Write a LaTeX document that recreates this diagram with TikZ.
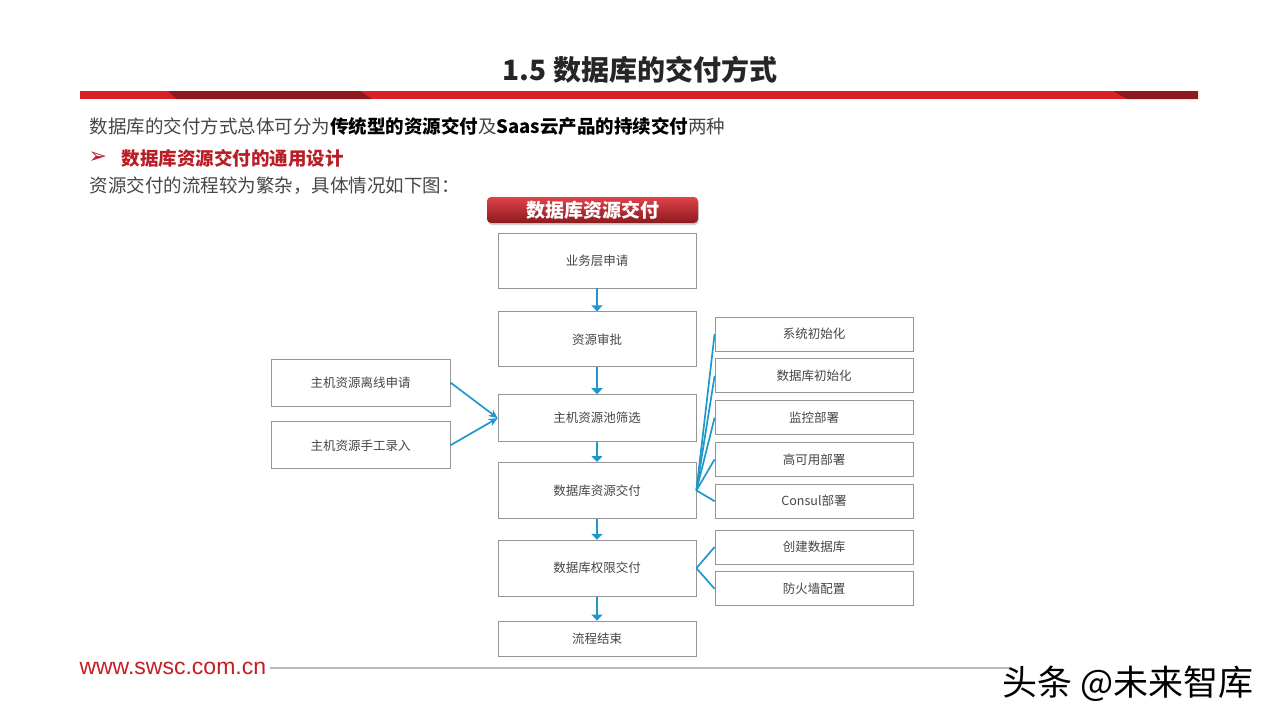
\documentclass[tikz,border=0pt]{standalone}
\usepackage{fontspec}
\setmainfont{Noto Sans CJK SC}
\newfontfamily\symfont{DejaVu Sans}
\newfontfamily\webfont{Liberation Sans}
\usepackage{tikz}
\usetikzlibrary{arrows.meta, positioning, shadows}
\definecolor{swRed}{RGB}{218, 33, 40}
\definecolor{swDark}{RGB}{140, 26, 30}
\definecolor{headRed}{RGB}{185, 30, 38}
\definecolor{flowBlue}{RGB}{30, 152, 205}
\definecolor{boxGray}{RGB}{150, 150, 150}
\definecolor{textGray}{RGB}{70, 70, 70}
\tikzset{
  mainbox/.style={
    rectangle, draw=boxGray, fill=white, line width=0.8pt,
    minimum width=198pt, align=center,
    font=\fontsize{12.5}{14}\selectfont, text=textGray
  },
  sidebox/.style={
    mainbox, minimum height=34pt
  },
  srcbox/.style={
    mainbox, minimum width=179pt, minimum height=47pt
  },
  banner/.style={
    rectangle, rounded corners=4pt,
    top color=swRed!85!white, bottom color=swDark,
    minimum width=211pt, minimum height=26pt,
    drop shadow={opacity=0.35, shadow xshift=1pt, shadow yshift=-2pt},
    text=white, font=\fontsize{19}{20}\selectfont\bfseries
  },
  flowarrow/.style={
    -{Triangle[length=6pt,width=11pt]}, line width=2.7pt, color=flowBlue
  },
  feedarrow/.style={
    -{Stealth[length=9pt,width=8pt]}, line width=1.7pt, color=flowBlue
  },
  fanline/.style={
    line width=1.7pt, color=flowBlue
  },
  bodytext/.style={
    anchor=west, text=textGray, font=\fontsize{18.5}{20}\selectfont
  }
}

\begin{document}
\begin{tikzpicture}[x=1pt, y=-1pt]

  \useasboundingbox (0,0) rectangle (1280,720);
  \fill[white] (0,0) rectangle (1280,720);

  \node[font=\fontsize{28}{29}\selectfont\bfseries, text=black!85] (title) at (640,70)
    {1.5 数据库的交付方式};

  \fill[swRed] (80,91) rectangle (1198,99);
  \fill[swDark] (168,91) -- (360,91) -- (372,99) -- (176,99) -- cycle;
  \fill[swDark] (1113,91) -- (1198,91) -- (1198,99) -- (1127,99) -- cycle;

  \node[bodytext] (intro) at (86,126)
    {数据库的交付方式总体可分为\textbf{\color{black}传统型的资源交付}及\textbf{\color{black}Saas云产品的持续交付}两种};
  \node[anchor=west, text=headRed, font=\fontsize{22}{22}\symfont] (mark) at (85,158) {➢};
  \node[anchor=west, text=headRed, font=\fontsize{18.5}{20}\selectfont\bfseries] (sub) at (118,158)
    {数据库资源交付的通用设计};
  \node[bodytext] (lead) at (86,186) {资源交付的流程较为繁杂，具体情况如下图：};

  \node[banner] (head) at (592.5,210) {数据库资源交付};

  \node[mainbox, minimum height=55pt] (apply) at (597,260.5) {业务层申请};
  \node[mainbox, minimum height=55pt, below=23pt of apply] (approve) {资源审批};
  \node[mainbox, minimum height=47pt, below=27pt of approve] (filter) {主机资源池筛选};
  \node[mainbox, minimum height=56pt, below=20pt of filter] (resdel) {数据库资源交付};
  \node[mainbox, minimum height=56pt, below=21pt of resdel] (privdel) {数据库权限交付};
  \node[mainbox, minimum height=35pt, below=24pt of privdel] (finish) {流程结束};

  \node[srcbox] (offline) at (360.5,382.5) {主机资源离线申请};
  \node[srcbox, below=15pt of offline] (manual) {主机资源手工录入};

  \node[sidebox] (sysinit) at (814,334) {系统初始化};
  \node[sidebox, below=7pt of sysinit] (dbinit) {数据库初始化};
  \node[sidebox, below=7pt of dbinit] (monitor) {监控部署};
  \node[sidebox, below=7pt of monitor] (hadeploy) {高可用部署};
  \node[sidebox, below=7pt of hadeploy] (consul) {Consul部署};
  \node[sidebox, below=11pt of consul] (createdb) {创建数据库};
  \node[sidebox, below=7pt of createdb] (firewall) {防火墙配置};

  \draw[flowarrow] (apply)   -- (approve);
  \draw[flowarrow] (approve) -- (filter);
  \draw[flowarrow] (filter)  -- (resdel);
  \draw[flowarrow] (resdel)  -- (privdel);
  \draw[flowarrow] (privdel) -- (finish);

  \draw[feedarrow] (offline.east) -- (filter.west);
  \draw[feedarrow] (manual.east)  -- (filter.west);

  \foreach \t in {sysinit, dbinit, monitor, hadeploy, consul}
    \draw[fanline] (resdel.east) -- (\t.west);
  \foreach \t in {createdb, firewall}
    \draw[fanline] (privdel.east) -- (\t.west);

  \node[anchor=west, text=swRed!90!black, font=\webfont\fontsize{23}{24}\selectfont] (site) at (76,668)
    {www.swsc.com.cn};
  \draw[gray!55, line width=1.8pt] (site.east) -- (1010,668);

  \node[anchor=west, text=white, font=\fontsize{35}{36}\selectfont] (markshade) at (1001,686)
    {头条 @未来智库};
  \node[anchor=west, text=black, font=\fontsize{35}{36}\selectfont] (watermark) at (999,684)
    {头条 @未来智库};

\end{tikzpicture}
\end{document}
